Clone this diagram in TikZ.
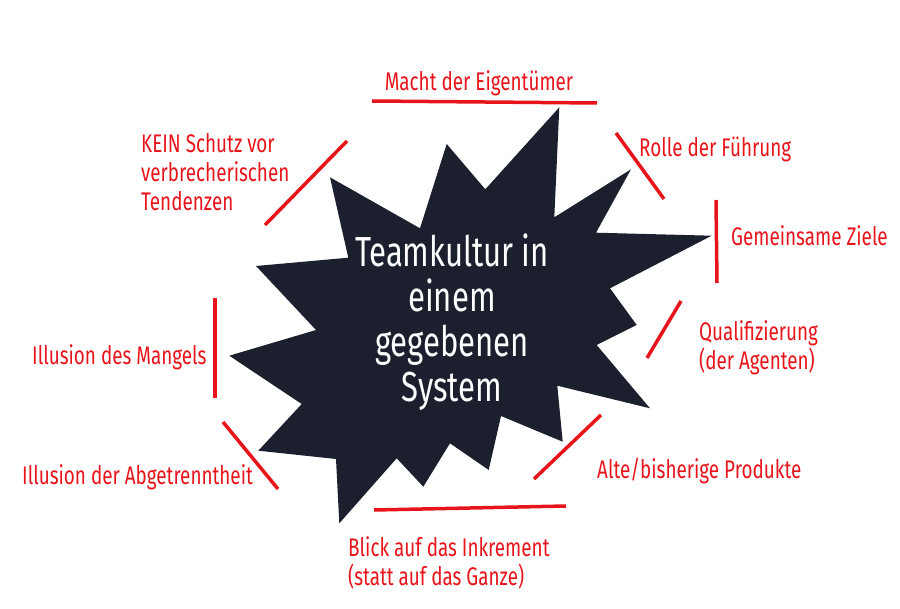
\documentclass[tikz,border=0pt]{standalone}
\usepackage{fontspec}
\setmainfont[FakeStretch=0.74,BoldFont={Fira Sans SemiBold}]{Fira Sans}
\definecolor{myred}{HTML}{E8141B}
\definecolor{mydark}{HTML}{1B1F2E}
\begin{document}
\begin{tikzpicture}[x=1pt,y=-1pt,
  lab/.style={text=myred,font=\fontsize{25.5}{29}\selectfont,align=left,inner sep=0pt},
  bar/.style={draw=myred,line width=3.5pt}]
\useasboundingbox (0,0) rectangle (900,609);
\fill[mydark] (559.3,107.3)--(554.3,217.3)--(631,169.3)--(596,232.7)--(711.7,235.7)--(610,288.3)--(636.7,325)--(596.7,345)--(650,408.3)--(557.3,385.7)--(562.7,441.7)--(501,416)--(488.7,470)--(450,443.3)--(423.3,486.7)--(396.7,458.3)--(339.3,523.3)--(336,459)--(258.3,450.7)--(301.7,404)--(229.3,355.7)--(316,330)--(256,266)--(348.3,257.7)--(330,177.3)--(420,228.3)--(446.7,144)--(485.3,189.3)--cycle;
\node (center) [text=white,font=\fontsize{42}{45}\selectfont,align=center] at (452,322) {Teamkultur in\\einem\\gegebenen\\System};
\coordinate (a1) at (372,101); \coordinate (a2) at (597,103);
\coordinate (b1) at (616,133); \coordinate (b2) at (664,199);
\coordinate (c1) at (716,200); \coordinate (c2) at (717,283);
\coordinate (d1) at (681,301); \coordinate (d2) at (647,358);
\coordinate (e1) at (601,415); \coordinate (e2) at (534,479);
\coordinate (f1) at (374,510); \coordinate (f2) at (566,506);
\coordinate (g1) at (223,422); \coordinate (g2) at (278,489);
\coordinate (h1) at (215,298); \coordinate (h2) at (215,398);
\coordinate (i1) at (347,141); \coordinate (i2) at (265,225);
\foreach \p in {a,b,c,d,e,f,g,h,i} \draw[bar] (\p1)--(\p2);
\node (macht) [lab,anchor=center] at (479,83) {Macht der Eigentümer};
\node (rolle) [lab,anchor=west] at (639,149) {Rolle der Führung};
\node (ziele) [lab,anchor=west] at (731,236) {Gemeinsame Ziele};
\node (quali) [lab,anchor=west] at (699,348) {Qualifizierung\\(der Agenten)};
\node (alte) [lab,anchor=west] at (597,471) {Alte/bisherige Produkte};
\node (blick) [lab,anchor=west] at (348,563) {Blick auf das Inkrement\\(statt auf das Ganze)};
\node (abg) [lab,anchor=west] at (22,477) {Illusion der Abgetrenntheit};
\node (mang) [lab,anchor=west] at (32,357) {Illusion des Mangels};
\node (kein) [lab,anchor=west] at (141,172) {KEIN Schutz vor\\verbrecherischen\\Tendenzen};
\end{tikzpicture}
\end{document}
